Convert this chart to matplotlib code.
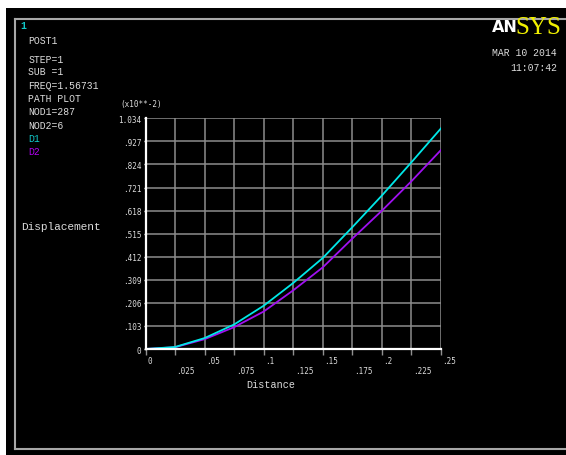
import matplotlib
matplotlib.use("Agg")
import matplotlib.pyplot as plt
from matplotlib.patches import Rectangle
from matplotlib.lines import Line2D

# Path plot data (displacement in units of 1e-2)
distance = [0.0, 0.025, 0.05, 0.075, 0.1, 0.125, 0.15, 0.175, 0.2, 0.225, 0.25]
d1 = [0.0, 0.009, 0.049, 0.110, 0.194, 0.296, 0.408, 0.546, 0.688, 0.837, 0.989]
d2 = [0.0, 0.008, 0.044, 0.098, 0.168, 0.263, 0.366, 0.495, 0.620, 0.752, 0.892]

x_ticks = [0.0, 0.025, 0.05, 0.075, 0.1, 0.125, 0.15, 0.175, 0.2, 0.225, 0.25]
x_tick_labels = ["0", ".025", ".05", ".075", ".1", ".125", ".15", ".175", ".2", ".225", ".25"]
y_ticks = [0.0, 0.1034, 0.2068, 0.3102, 0.4136, 0.517, 0.6204, 0.7238, 0.8272, 0.9306, 1.034]
y_tick_labels = ["0", ".103", ".206", ".309", ".412", ".515", ".618", ".721", ".824", ".927", "1.034"]

info_lines = ["STEP=1", "SUB =1", "FREQ=1.56731", "PATH PLOT", "NOD1=287", "NOD2=6"]

W, H = 566, 456
fig = plt.figure(figsize=(W / 100, H / 100), dpi=100, facecolor="white")

def fx(px):
    return px / W

def fy(py):
    return 1 - py / H

# black graphics window with grey frame
fig.patches.append(Rectangle((fx(6), 0), 1, fy(9), transform=fig.transFigure,
                             facecolor="black", edgecolor="none", zorder=-10))
frame = "#a8a8a8"
for xs, ys in [((15, 566), (20, 20)), ((15, 15), (20, 450)), ((15, 566), (450, 450))]:
    fig.add_artist(Line2D([fx(xs[0]), fx(xs[1])], [fy(ys[0]), fy(ys[1])],
                          transform=fig.transFigure, color=frame, lw=1.5, zorder=-5))

txt = "#dcdcdc"
cyan = "#00e8e8"
purple = "#a010f0"
mono = "Liberation Mono"

ax = fig.add_axes([fx(145.5), fy(350), fx(441) - fx(145.5), fy(119.3) - fy(350)])
ax.set_zorder(5)
ax.set_facecolor("black")
ax.plot(distance, d2, color=purple, lw=1.3, zorder=3)
ax.plot(distance, d1, color=cyan, lw=1.3, zorder=4)

ax.set_xlim(0, 0.25)
ax.set_ylim(0, 1.034)
ax.set_xticks(x_ticks)
ax.set_xticklabels([])
ax.set_yticks(y_ticks)
ax.set_yticklabels(y_tick_labels, family="DejaVu Sans Mono", fontsize=5.5, color=txt)
ax.tick_params(axis="x", length=4, width=1.0, color="#909090", direction="out")
ax.tick_params(axis="y", length=1.5, width=1.0, color="white", direction="out", pad=1.5)
ax.grid(True, color="#8c8c8c", lw=1.1, zorder=1)
ax.set_axisbelow(True)
for side in ("top", "right"):
    ax.spines[side].set_visible(False)
for side in ("left", "bottom"):
    ax.spines[side].set_color("white")
    ax.spines[side].set_linewidth(1.6)
    ax.spines[side].set_zorder(5)

# staggered x tick labels, left-aligned at their grid lines
for i, (v, lab) in enumerate(zip(x_ticks, x_tick_labels)):
    off = -11.7 if i % 2 == 0 else -21.7
    ax.annotate(lab, xy=(v, 0), xycoords=("data", "axes fraction"),
                xytext=(1.5, off), textcoords="offset pixels",
                ha="left", va="center", family="DejaVu Sans Mono",
                fontsize=5.5, color=txt, annotation_clip=False)

fig.text(fx(270.5), fy(385), "Distance", family=mono, fontsize=7.3, color=txt,
         ha="center", va="center")
fig.text(fx(21.5), fy(227), "Displacement", family=mono, fontsize=8, color=txt,
         ha="left", va="center")
fig.text(fx(120.5), fy(104.3), "(x10**-2)", family="DejaVu Sans Mono", fontsize=5.5,
         color=txt, ha="left", va="center")

# header block
fig.text(fx(20), fy(26), "1", family=mono, fontsize=7, color="#10c8c8",
         ha="left", va="center", weight="bold")
fig.text(fx(28.3), fy(40.7), "POST1", family=mono, fontsize=7, color=txt,
         ha="left", va="center")
info_y = [60, 72.3, 86, 99, 112.3, 126]
for s, y in zip(info_lines, info_y):
    fig.text(fx(28.3), fy(y), s, family=mono, fontsize=7, color=txt,
             ha="left", va="center")
fig.text(fx(28.3), fy(139.3), "D1", family=mono, fontsize=7, color="#10c8c8",
         ha="left", va="center")
fig.text(fx(28.3), fy(152), "D2", family=mono, fontsize=7, color="#b000f0",
         ha="left", va="center")

# logo and time stamp
fig.text(fx(491.5), fy(27), "AN", family="DejaVu Sans", weight="heavy", fontsize=11.5,
         color="white", ha="left", va="center")
fig.text(fx(515.5), fy(27.5), "SYS", family="Liberation Serif", fontsize=18,
         color="#f0f000", ha="left", va="center")
fig.text(fx(557), fy(53.3), "MAR 10 2014", family=mono, fontsize=7, color=txt,
         ha="right", va="center")
fig.text(fx(557), fy(68.3), "11:07:42", family=mono, fontsize=7, color=txt,
         ha="right", va="center")

fig.savefig("out.png", dpi=100, facecolor="white")
